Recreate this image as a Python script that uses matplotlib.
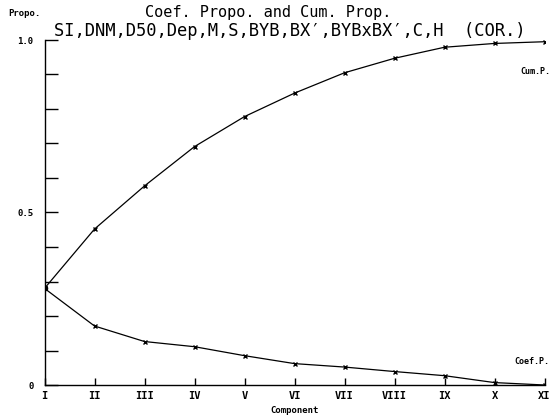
import matplotlib
matplotlib.use("Agg")
import matplotlib.pyplot as plt
import numpy as np

components = ["I", "II", "III", "IV", "V", "VI", "VII", "VIII", "IX", "X", "XI"]
cum_p = [0.28, 0.452, 0.577, 0.691, 0.778, 0.846, 0.905, 0.947, 0.979, 0.990, 0.995]
coef_p = [0.28, 0.171, 0.126, 0.111, 0.085, 0.062, 0.052, 0.039, 0.027, 0.007, 0.0]
y_labels = {0.0: "0", 0.5: "0.5", 1.0: "1.0"}

mono = "DejaVu Sans Mono"
W, H = 559, 419
fig = plt.figure(figsize=(W / 100, H / 100), dpi=100)
left, right = 44.5 / W, 544.5 / W
bottom, top = 1 - 385 / H, 1 - 40 / H
ax = fig.add_axes([left, bottom, right - left, top - bottom])

x = np.arange(1, len(components) + 1)
ax.plot(x, cum_p, color="black", lw=0.9, marker="x", ms=3.5, mew=1.0)
ax.plot(x, coef_p, color="black", lw=0.9, marker="x", ms=3.5, mew=1.0)
ax.plot([x[0]], [cum_p[0]], "o", color="black", ms=3)

ax.set_xlim(1, len(components))
ax.set_ylim(0, 1.0)
for s in ["top", "right"]:
    ax.spines[s].set_visible(False)
for s in ["left", "bottom"]:
    ax.spines[s].set_linewidth(1.0)

ax.set_xticks(x)
ax.set_xticklabels(components, fontfamily=mono, fontsize=7.5, fontweight="bold")
ax.tick_params(axis="x", direction="in", length=5, width=1.0, pad=4)

yt = np.round(np.arange(0, 1.01, 0.1), 2)
ax.set_yticks(yt)
ax.set_yticklabels([y_labels.get(float(v), "") for v in yt], fontfamily=mono,
                   fontsize=6.5, fontweight="bold")
ax.tick_params(axis="y", direction="in", length=9, width=1.0, pad=8)

fig.text(295 / W, 1 - 410 / H, "Component", ha="center", va="center",
         fontfamily=mono, fontsize=6.5, fontweight="bold")
fig.text(8 / W, 1 - 14 / H, "Propo.", ha="left", va="center",
         fontfamily=mono, fontsize=6.5, fontweight="bold")
fig.text(268 / W, 1 - 13 / H, "Coef. Propo. and Cum. Prop.", ha="center",
         va="center", fontfamily=mono, fontsize=11)
fig.text(290 / W, 1 - 31 / H, "SI,DNM,D50,Dep,M,S,BYB,BX\u2032,BYBxBX\u2032,C,H  (COR.)",
         ha="center", va="center", fontfamily=mono, fontsize=12.3)
fig.text(535 / W, 1 - 72 / H, "Cum.P.", ha="center", va="center",
         fontfamily=mono, fontsize=6, fontweight="bold")
fig.text(532 / W, 1 - 361 / H, "Coef.P.", ha="center", va="center",
         fontfamily=mono, fontsize=6, fontweight="bold")

fig.savefig("out.png", dpi=100)
